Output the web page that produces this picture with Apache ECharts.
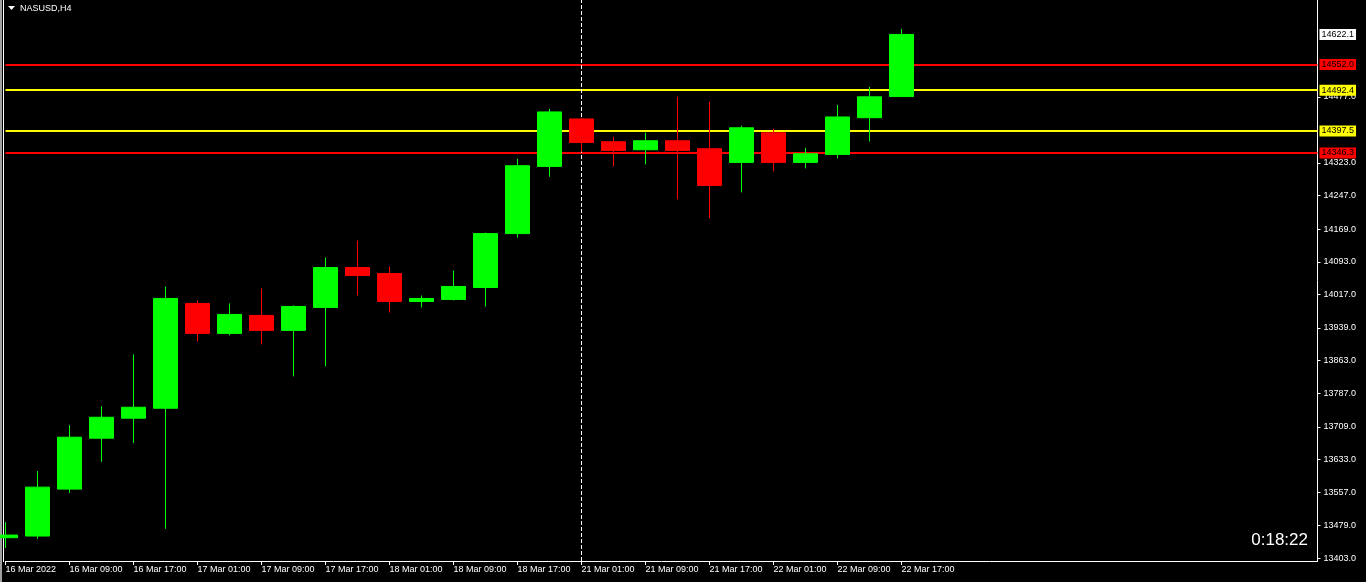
<!DOCTYPE html>
<html>
<head>
<meta charset="utf-8">
<title>NASUSD,H4</title>
<script src="https://cdn.jsdelivr.net/npm/echarts@6/dist/echarts.min.js"></script>
<style>
  html, body { margin: 0; padding: 0; background: #000; }
  #chart { width: 1366px; height: 582px; }
</style>
</head>
<body>
<div id="chart"></div>
<script>
// H4 bars, 16 Mar 01:00 .. 22 Mar 17:00
const times = [
  '16 Mar 2022', '16 Mar 05:00', '16 Mar 09:00', '16 Mar 13:00', '16 Mar 17:00', '16 Mar 21:00',
  '17 Mar 01:00', '17 Mar 05:00', '17 Mar 09:00', '17 Mar 13:00', '17 Mar 17:00', '17 Mar 21:00',
  '18 Mar 01:00', '18 Mar 05:00', '18 Mar 09:00', '18 Mar 13:00', '18 Mar 17:00', '18 Mar 21:00',
  '21 Mar 01:00', '21 Mar 05:00', '21 Mar 09:00', '21 Mar 13:00', '21 Mar 17:00', '21 Mar 21:00',
  '22 Mar 01:00', '22 Mar 05:00', '22 Mar 09:00', '22 Mar 13:00', '22 Mar 17:00'
]
const opens = [
  13450.9, 13454.8, 13564.0, 13682.5, 13729.0, 13752.2,
  13996.1, 13926.4, 13968.2, 13933.4, 13986.8, 14079.7,
  14065.7, 14000.7, 14005.4, 14033.2, 14158.7, 14315.0,
  14425.5, 14372.4, 14353.8, 14374.7, 14356.1, 14324.3,
  14393.3, 14324.3, 14342.9, 14428.4, 14477.6
]
const closes = [
  13457.1, 13568.6, 13684.8, 13731.2, 13754.5, 14007.7,
  13926.4, 13970.5, 13933.4, 13989.1, 14079.7, 14061.1,
  14000.7, 14007.7, 14035.6, 14158.7, 14316.6, 14441.8,
  14370.8, 14352.2, 14374.7, 14352.2, 14270.8, 14404.9,
  14324.3, 14344.5, 14430.1, 14476.9, 14622.1
]
const lows = [
  13426.9, 13448.5, 13555.4, 13627.4, 13671.5, 13471.8,
  13907.8, 13921.7, 13900.9, 13826.5, 13849.7, 14014.6,
  13975.1, 13986.8, 14003.0, 13989.1, 14149.4, 14291.0,
  14349.2, 14315.0, 14319.6, 14238.3, 14194.2, 14254.6,
  14303.4, 14310.4, 14333.6, 14373.1, 14477.6
]
const highs = [
  13487.3, 13605.8, 13712.7, 13756.8, 13877.6, 14035.6,
  14003.0, 13996.1, 14031.0, 13991.5, 14102.9, 14142.4,
  14082.0, 14014.6, 14072.7, 14161.0, 14332.9, 14448.8,
  14428.3, 14383.9, 14393.7, 14477.3, 14465.7, 14409.6,
  14402.6, 14358.4, 14458.0, 14500.2, 14634.9
]
const priceTicks = [13403, 13479, 13557, 13633, 13709, 13787, 13863, 13939, 14017, 14093, 14169, 14247, 14323, 14477]
const levels = [14552.0, 14492.4, 14397.5, 14346.3]
const lastPrice = 14622.1
const crossAt = '21 Mar 01:00'
const timer = '0:18:22'

const levelColors = ['#ff0000', '#ffff00', '#ffff00', '#ff0000']
const FONT = 'Liberation Sans'
const FUTURE_SLOTS = 13

const slots = times.concat(new Array(FUTURE_SLOTS).fill(''))
const bars = opens.map(function (o, i) {
  return [o, closes[i], lows[i], highs[i]]
})

function tagLabel (bg) {
  return {
    show: true,
    position: 'end',
    distance: 2,
    formatter: function (p) { return p.value.toFixed(1) },
    color: '#000',
    backgroundColor: bg,
    fontFamily: FONT,
    fontSize: 9,
    lineHeight: 9,
    padding: [1, 2, 1, 2]
  }
}

const lineMarks = levels.map(function (v, i) {
  return {
    yAxis: v,
    lineStyle: { color: levelColors[i], width: 2, type: 'solid' },
    label: tagLabel(levelColors[i])
  }
})
lineMarks.push({
  yAxis: lastPrice,
  lineStyle: { color: 'rgba(0,0,0,0)', width: 0 },
  label: tagLabel('#ffffff')
})
lineMarks.push({
  xAxis: times.indexOf(crossAt),
  lineStyle: { color: '#ffffff', width: 1, type: [4, 2] },
  label: { show: false }
})

const chart = echarts.init(document.getElementById('chart'))
chart.setOption({
  backgroundColor: '#000',
  animation: false,
  grid: {
    left: 5.5,
    right: 48.5,
    top: -1,
    bottom: 21
  },
  xAxis: {
    type: 'category',
    data: slots,
    boundaryGap: false,
    axisLine: { show: true, lineStyle: { color: '#ffffff', width: 1 } },
    axisTick: {
      show: true,
      length: 4,
      lineStyle: { color: '#ffffff' },
      interval: function (i, v) { return v !== '' && i % 2 === 0 }
    },
    axisLabel: {
      color: '#ffffff',
      fontFamily: FONT,
      fontSize: 9,
      align: 'left',
      margin: 4,
      interval: function (i, v) { return v !== '' && i % 2 === 0 }
    },
    splitLine: { show: false }
  },
  yAxis: {
    type: 'value',
    position: 'right',
    scale: true,
    min: 13396.7,
    max: 14702.3,
    axisLine: { show: true, lineStyle: { color: '#ffffff', width: 1 } },
    axisTick: {
      show: true,
      length: 3,
      lineStyle: { color: '#ffffff' },
      customValues: priceTicks
    },
    axisLabel: {
      color: '#ffffff',
      fontFamily: FONT,
      fontSize: 9,
      margin: 6,
      customValues: priceTicks,
      formatter: function (v) { return v.toFixed(1) }
    },
    splitLine: { show: false }
  },
  series: [
    {
      type: 'line',
      data: [],
      silent: true,
      markLine: {
        z: 1,
        silent: true,
        symbol: ['none', 'none'],
        animation: false,
        data: lineMarks
      }
    },
    {
      type: 'candlestick',
      z: 6,
      data: bars,
      barWidth: 24,
      clip: true,
      itemStyle: {
        color: '#00ff00',
        color0: '#ff0000',
        borderColor: '#00ff00',
        borderColor0: '#ff0000',
        borderWidth: 1
      }
    }
  ],
  graphic: [
    // window frame on the left
    { type: 'rect', shape: { x: 0, y: 0, width: 2, height: 582 }, style: { fill: '#a0a0a0' } },
    { type: 'rect', shape: { x: 3, y: 0, width: 1, height: 562 }, style: { fill: '#ffffff' } },
    {
      type: 'polygon',
      shape: { points: [[8, 6], [15, 6], [11.5, 10]] },
      style: { fill: '#ffffff' }
    },
    {
      type: 'text',
      left: 20,
      top: 4,
      style: { text: 'NASUSD,H4', fill: '#ffffff', font: '9px ' + FONT }
    },
    {
      type: 'text',
      right: 58,
      top: 532,
      style: { text: timer, fill: '#ffffff', font: '17px ' + FONT }
    }
  ]
})
</script>
</body>
</html>
